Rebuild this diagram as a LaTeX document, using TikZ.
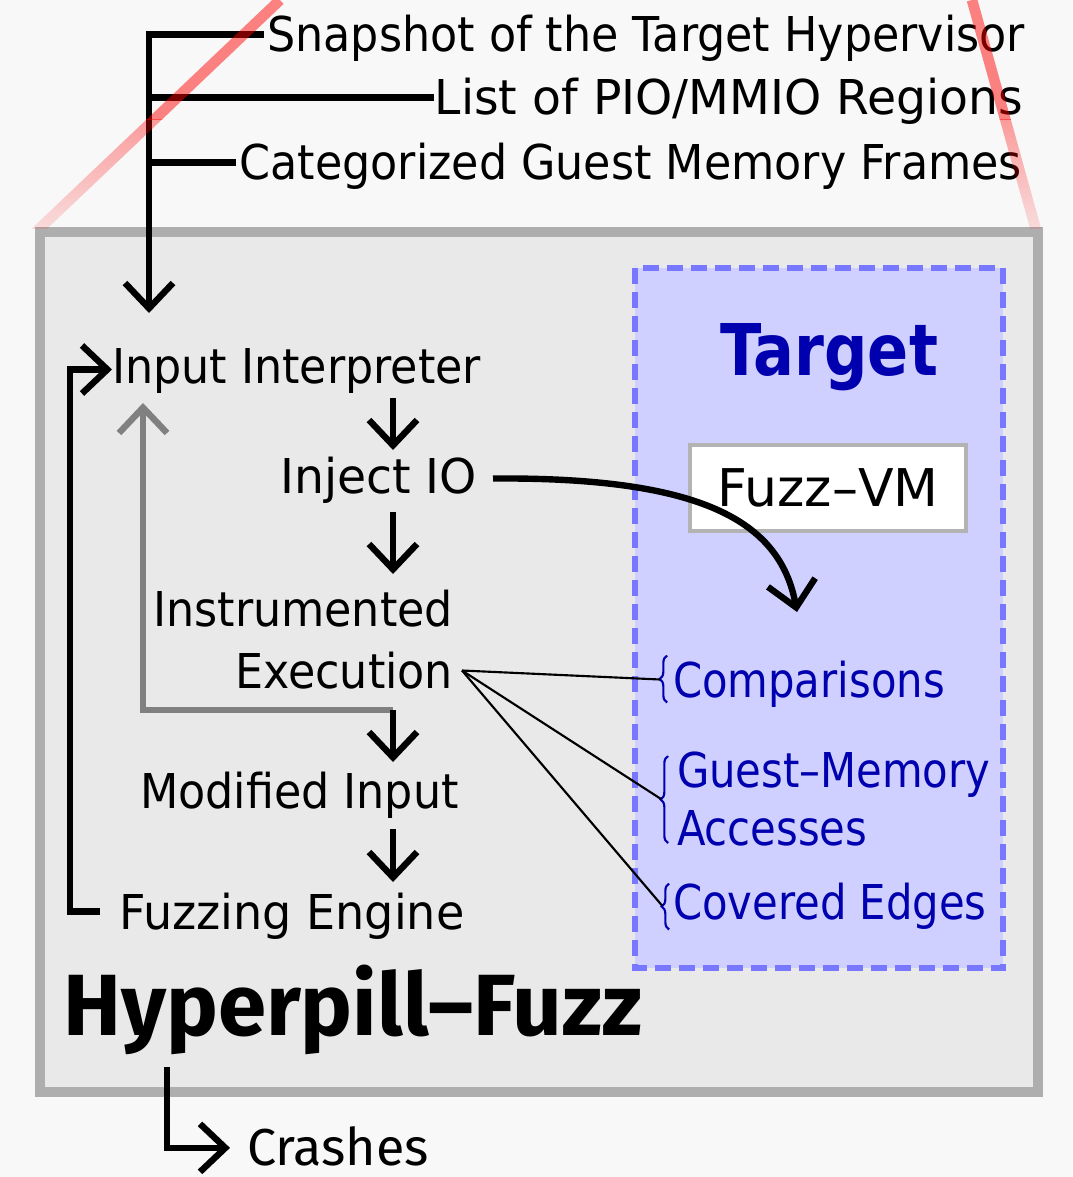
\documentclass[tikz,border=0pt]{standalone}
\usepackage{fontspec}
\usetikzlibrary{arrows.meta,calc,fadings,decorations.pathreplacing}
% label faces: one sans family at a few set widths
\newfontfamily\lgfont{DejaVu Sans}[FakeStretch=0.925]
\newfontfamily\lgmid{DejaVu Sans}[FakeStretch=0.96]
\newfontfamily\lgwide{DejaVu Sans}[FakeStretch=0.985]
\newfontfamily\lgnarrow{DejaVu Sans}[FakeStretch=0.87]
\newfontfamily\lgtitle{DejaVu Sans}[FakeStretch=0.85]
\newfontfamily\lgplain{DejaVu Sans}
\newfontfamily\firafont{Fira Sans}
\definecolor{pagebg}{HTML}{F8F8F8}
\definecolor{boxfill}{HTML}{E9E9E9}
\definecolor{boxline}{HTML}{AEAEAE}
\definecolor{tgtfill}{HTML}{CFD0FF}
\definecolor{tgtline}{HTML}{7777FF}
\definecolor{tgttext}{RGB}{0,0,175}
\definecolor{vmline}{HTML}{B3B3B3}
\definecolor{loopgray}{HTML}{808080}
\tikzfading[name=zoomfade, top color=transparent!0, bottom color=transparent!100]

\begin{document}
\begin{tikzpicture}[x=0.75pt,y=-0.75pt,
  >={Straight Barb[length=19pt,width=36pt]},
  conn/.style={line width=4.8pt},
  fanline/.style={line width=1.6pt},
  lbl/.style={inner sep=0pt, outer sep=0pt, text height=26.25pt, text depth=0pt,
    font=\lgfont\fontsize{36}{40}\selectfont},
  lblmid/.style={lbl, font=\lgmid\fontsize{36}{40}\selectfont},
  lblwide/.style={lbl, font=\lgwide\fontsize{36}{40}\selectfont},
  bluelbl/.style={lbl, text=tgttext, font=\lgnarrow\fontsize{36}{40}\selectfont},
  bracestyle/.style={draw=tgttext, line width=1.6pt, decorate,
    decoration={brace, amplitude=5.5pt}},
  zoomline/.style={draw=red, line width=8pt, draw opacity=0.48}]

% page and bounding box
\fill[pagebg] (0,0) rectangle (1072,1177);
\useasboundingbox (0,0) rectangle (1072,1177);

% main frame
\draw[line width=7.5pt, draw=boxline, fill=boxfill] (39.5,232) rectangle (1037.5,1092);

% target region
\draw[line width=4.5pt, draw=tgtline, fill=tgtfill, dash pattern=on 12pt off 6pt]
  (635,268) rectangle (1003,968);

% inputs on top
\node[lbl, anchor=base east]     (snap)   at (1025,52)  {Snapshot of the Target Hypervisor};
\node[lblwide, anchor=base east] (pio)    at (1023,115) {List of PIO/MMIO Regions};
\node[lbl, anchor=base east]     (frames) at (1022,180) {Categorized Guest Memory Frames};

% fuzzing pipeline
\node[lbl, anchor=base west]     (interp) at (112,383) {Input Interpreter};
\node[lblwide, anchor=base east] (inject) at (477,493) {Inject IO};
\node[lbl, anchor=base east]     (exec1)  at (453,626) {Instrumented};
\node[lbl, anchor=base east]     (exec2)  at (453,688) {Execution};
\node[lbl, anchor=base west]     (modin)  at (140,808) {Modified Input};
\node[lblmid, anchor=base west]  (engine) at (119,929) {Fuzzing Engine};

\node[inner sep=0pt, anchor=base west, font=\firafont\bfseries\fontsize{65.2}{70}\selectfont]
  (hyper) at (63,1035) {Hyperpill–Fuzz};
\node[inner sep=0pt, anchor=base west, font=\firafont\fontsize{39}{42}\selectfont]
  (crash) at (247,1165) {Crashes};

% target contents
\node[inner sep=0pt, anchor=base, text=tgttext, font=\lgtitle\bfseries\fontsize{53.5}{58}\selectfont]
  (target) at (829,375) {Target};
\node[draw=vmline, line width=3pt, fill=white, minimum width=207pt, minimum height=64.5pt,
  inner sep=0pt, font=\lgplain\fontsize{39}{42}\selectfont] (vm) at (828,488) {Fuzz–VM};

\node[bluelbl, anchor=base west] (cmp) at (673,697) {Comparisons};
\node[bluelbl, anchor=base west] (gm)  at (677,787) {Guest–Memory};
\node[bluelbl, anchor=base west] (acc) at (677,845) {Accesses};
\node[bluelbl, anchor=base west] (cov) at (673,919) {Covered Edges};

% brace tips
\coordinate (tipA) at ($(cmp.west)+(-13,0)$);
\coordinate (tipB) at ($(gm.base west)+(-16,12)$);
\coordinate (tipC) at ($(cov.west)+(-11,4)$);
\draw[bracestyle] ($(tipA)+(7,23)$) -- ($(tipA)+(7,-24)$);
\draw[bracestyle] ($(tipB)+(7,44)$) -- ($(tipB)+(7,-43)$);
\draw[bracestyle] ($(tipC)+(7,24)$) -- ($(tipC)+(7,-22)$);

% helper coordinates
\coordinate (col) at (393,0);
\coordinate (intop) at (149,313);
\coordinate (split) at ($(exec2.south -| col)+(0,22)$);
\coordinate (grayTip) at ($(interp.south west)+(31,20)$);
\coordinate (fan) at ($(exec2.east)+(9,0)$);
\coordinate (vmIn) at (797,612);

% inputs feeding the interpreter
\draw[conn,->] ($(snap.west)+(-3,0)$) -| (intop);
\draw[conn] ($(pio.west)+(-1,0)$) -- (pio.west -| intop);
\draw[conn] ($(frames.west)+(-4,0)$) -- (frames.west -| intop);

% feedback loop from the engine
\draw[conn,->] ($(engine.west)+(-19,0)$) -| ($(interp.west)+(-42,4)$) -- ($(interp.west)+(0,4)$);

% gray loop back to the interpreter
\draw[conn, draw=loopgray, ->] (split) -| (grayTip);

% main chain
\draw[conn,->] ($(interp.south -| col)+(0,15)$) -- ($(inject.north -| col)+(0,-8)$);
\draw[conn,->] ($(inject.south -| col)+(0,19)$) -- ($(exec1.north -| col)+(0,-17)$);
\draw[conn,->] (split) -- ($(modin.north -| col)+(0,-11)$);
\draw[conn,->] ($(modin.south -| col)+(0,21)$) -- ($(engine.north -| col)+(0,-12)$);

% IO injection into the VM
\draw[conn,->] ($(inject.east)+(16,3)$) .. controls (700,477) and (780,520) .. (vmIn);

% feedback collected during execution
\draw[fanline] (fan) -- (tipA);
\draw[fanline] (fan) -- (tipB);
\draw[fanline] (fan) -- (tipC);

% crash output
\draw[conn,->] ($(hyper.base west)+(104,32)$) |- ($(crash.west)+(-17,2)$);

% translucent zoom guides above the frame: solid upper part ...
\begin{scope}
  \clip (0,0) rectangle (1072,120);
  \draw[zoomline] (280,0) -- (38,230);
  \draw[zoomline] (972,0) -- (1036,230);
\end{scope}
% ... and a lower part that fades out towards the frame
\begin{scope}
  \clip (0,120) rectangle (1072,228);
  \draw[zoomline, path fading=zoomfade] (195.8,80) -- (-4.1,270);
  \draw[zoomline, path fading=zoomfade] (994.3,80) -- (1047.1,270);
\end{scope}
\end{tikzpicture}
\end{document}
